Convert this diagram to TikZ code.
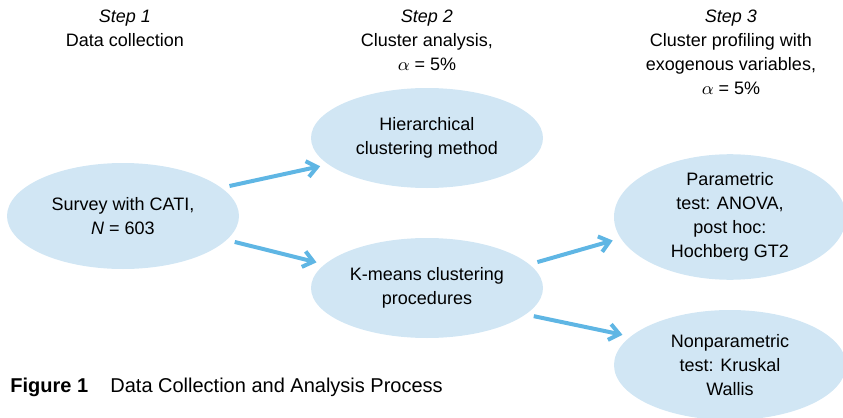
\documentclass[tikz,border=0pt]{standalone}
\usepackage{fontspec}
\setmainfont{Liberation Sans}
\usetikzlibrary{shapes.geometric,arrows.meta}
\definecolor{ellfill}{RGB}{209,230,244}
\definecolor{arrblue}{RGB}{95,182,228}
\begin{document}
\begin{tikzpicture}[x=0.5pt,y=-0.5pt,
    blob/.style={ellipse, fill=ellfill, minimum width=116pt, minimum height=53pt, inner sep=0pt, align=center, font=\fontsize{9}{12}\selectfont},
    head/.style={anchor=north, inner sep=0pt, align=center, font=\fontsize{9}{12}\selectfont},
    flow/.style={line width=2pt, draw=arrblue, shorten <=4pt, shorten >=4pt, -{Straight Barb[length=5pt,width=8pt]}}]
  \useasboundingbox (0,0) rectangle (843,418);
  \clip (0,0) rectangle (843,418);
  % column headings
  \node[head] (step1) at (125,10) {\textit{Step 1}\\Data collection};
  \node[head] (step2) at (427,10) {\textit{Step 2}\\Cluster analysis,\\$\alpha$ = 5\%};
  \node[head] (step3) at (731,10) {\textit{Step 3}\\Cluster profiling with\\exogenous variables,\\$\alpha$ = 5\%};
  % ellipses
  \node[blob] (survey) at (123,216) {Survey with CATI,\\\textit{N} = 603};
  \node[blob, minimum height=50pt] (hier) at (427,138) {Hierarchical\\clustering method};
  \node[blob, minimum height=50pt] (kmeans) at (427,288) {K-means clustering\\procedures};
  \node[blob] (param) at (730,217) {Parametric\\test: ANOVA,\\post hoc:\\Hochberg GT2};
  \node[blob, minimum height=55pt] (nonparam) at (730,365) {Nonparametric\\test: Kruskal\\Wallis};
  % arrows
  \draw[flow] (survey.16) -- (hier.195);
  \draw[flow] (survey.-13) -- (kmeans.167);
  \draw[flow] (kmeans.13) -- (param.191);
  \draw[flow] (kmeans.-15) -- (nonparam.164);
  % caption
  \node[anchor=base west, inner sep=0pt, font=\fontsize{10}{12}\selectfont] (fig) at (10,392) {\textbf{Figure 1}};
  \node[anchor=base west, inner sep=0pt, font=\fontsize{10}{12}\selectfont] (title) at (110,392) {Data Collection and Analysis Process};
\end{tikzpicture}
\end{document}
